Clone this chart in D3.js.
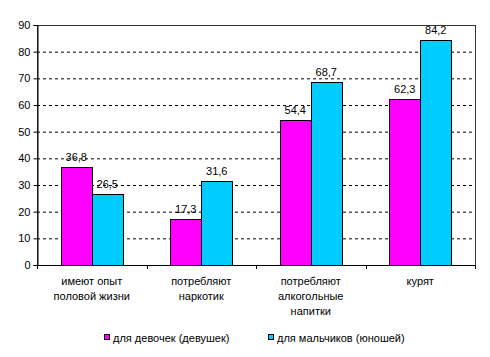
<!DOCTYPE html>
<html><head><meta charset="utf-8">
<script src="https://cdn.jsdelivr.net/npm/d3@7"></script>
<style>body{margin:0;background:#fff}svg{display:block;font-family:"Liberation Sans",Arial,sans-serif}</style>
</head><body><svg id="c" width="490" height="357"></svg>
<script>
const categories = [["имеют опыт","половой жизни"],["потребляют","наркотик"],["потребляют","алкогольные","напитки"],["курят"]];
const seriesNames = ["для девочек (девушек)","для мальчиков (юношей)"];
const girls = [36.8, 17.3, 54.4, 62.3];
const boys = [26.5, 31.6, 68.7, 84.2];
const yTicks = [0,10,20,30,40,50,60,70,80,90];
const colors = ["#FF00FF","#00CCFF"];

const svg = d3.select("#c");
const L=37, R=475, T=25, B=265;
const x = d3.scaleBand().domain(d3.range(categories.length)).range([L,R]);
const y = d3.scaleLinear().domain([0,90]).range([B,T]);
const bw = 31;

const g = svg.append("g");
// gridlines
g.selectAll(".grid").data(yTicks.filter(d=>d>0&&d<90)).enter().append("line")
 .attr("x1",L).attr("x2",R).attr("y1",d=>y(d)+0.5).attr("y2",d=>y(d)+0.5)
 .attr("stroke","#000").attr("stroke-dasharray","3,3").attr("stroke-width",1);

// bars
const series=[girls,boys];
series.forEach((vals,si)=>{
  g.selectAll(".b"+si).data(vals).enter().append("rect")
   .attr("x",(d,i)=>Math.round(x(i)+x.bandwidth()/2 - bw + si*bw)+0.5)
   .attr("y",d=>Math.round(y(d))+0.5)
   .attr("width",bw).attr("height",d=>Math.round(B-y(d)))
   .attr("fill",colors[si]).attr("stroke","#000").attr("stroke-width",1);
  g.selectAll(".l"+si).data(vals).enter().append("text")
   .attr("x",(d,i)=>x(i)+x.bandwidth()/2 - bw/2 + si*bw)
   .attr("y",d=>y(d)-6)
   .attr("text-anchor","middle").attr("font-size","11px").attr("fill","#000")
   .text(d=>d3.format(".1f")(d).replace(".",","));
});

// frame
svg.append("rect").attr("x",L+0.5).attr("y",T+0.5).attr("width",R-L).attr("height",B-T)
 .attr("fill","none").attr("stroke","#333").attr("stroke-width",1);

// y axis
const ya = svg.append("g").attr("transform",`translate(${L+0.5},0)`)
 .call(d3.axisLeft(y).tickValues(yTicks).tickSize(4).tickPadding(3).tickFormat(d3.format("d")));
ya.select(".domain").attr("stroke","#000");
ya.selectAll(".tick line").attr("stroke","#000");
ya.selectAll("text").attr("font-size","11px").attr("font-family","Liberation Sans, Arial, sans-serif").attr("fill","#000");

// x axis ticks
const xt=[...d3.range(categories.length).map(i=>x(i)), R];
svg.selectAll(".xt").data(xt).enter().append("line")
 .attr("x1",d=>Math.round(d)+0.5).attr("x2",d=>Math.round(d)+0.5).attr("y1",B).attr("y2",B+4).attr("stroke","#000");
svg.append("line").attr("x1",L).attr("x2",R+1).attr("y1",B+0.5).attr("y2",B+0.5).attr("stroke","#000");

// category labels
categories.forEach((lines,i)=>{
  const t=svg.append("text").attr("text-anchor","middle").attr("font-size","11px").attr("fill","#000");
  lines.forEach((s,k)=>t.append("tspan").attr("x",x(i)+x.bandwidth()/2).attr("y",285+k*15).text(s));
});

// legend
const leg=[{x:104,t:seriesNames[0],c:colors[0]},{x:268,t:seriesNames[1],c:colors[1]}];
leg.forEach(l=>{
  svg.append("rect").attr("x",l.x+0.5).attr("y",334.5).attr("width",5).attr("height",5).attr("fill",l.c).attr("stroke","#000");
  svg.append("text").attr("x",l.x+9).attr("y",342).attr("font-size","11px").attr("fill","#000").text(l.t);
});
</script></body></html>
